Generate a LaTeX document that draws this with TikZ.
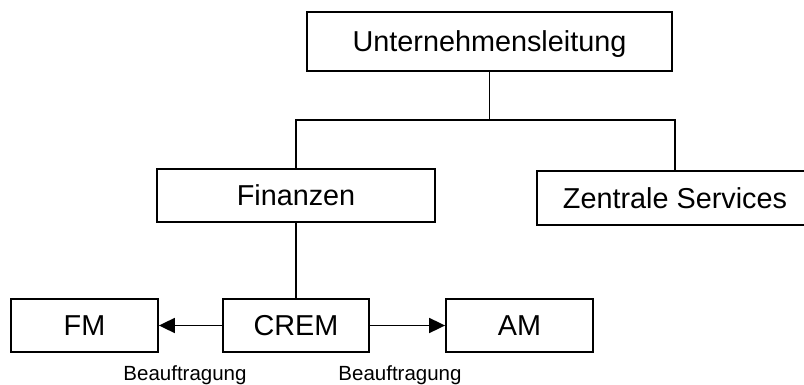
\documentclass[tikz,border=0pt]{standalone}
\usepackage{fontspec}
\setmainfont{Liberation Sans}
\usetikzlibrary{arrows.meta}
\begin{document}
\begin{tikzpicture}[x=1pt,y=-1pt,
  orgbox/.style={draw=black, line width=1.8pt, fill=white, inner sep=0pt,
    font=\fontsize{28.8}{30}\selectfont, text height=20.7pt, text depth=0pt},
  lab/.style={inner sep=0pt, font=\fontsize{20.5}{22}\selectfont, text height=14.7pt, text depth=0pt},
  conn/.style={draw=black, line width=1.8pt},
  arr/.style={conn, -{Triangle[length=16pt,width=15pt]}}]
\useasboundingbox (0,0) rectangle (804,385);
\clip (0,0) rectangle (804,385);
\node[orgbox, minimum width=365pt, minimum height=59pt] (U) at (489.5,41.5) {Unternehmensleitung};
\node[orgbox, minimum width=278pt, minimum height=53pt] (F) at (296,195.5) {Finanzen};
\node[orgbox, minimum width=276pt, minimum height=54pt] (Z) at (675,198) {Zentrale Services};
\node[orgbox, minimum width=146pt, minimum height=53pt] (C) at (296,325.5) {CREM};
\node[orgbox, minimum width=147pt, minimum height=53pt] (FM) at (84.5,325.5) {FM};
\node[orgbox, minimum width=147pt, minimum height=53pt] (AM) at (519.5,325.5) {AM};
\node[lab] (l1) at (185,373) {Beauftragung};
\node[lab] (l2) at (400,373) {Beauftragung};
\coordinate (j) at (489.5,120);
\draw[conn] (U.south) -- (j);
\draw[conn] (F.north) |- (j) -| (Z.north);
\draw[conn] (F.south) -- (C.north);
\draw[arr] (C.west) -- (FM.east);
\draw[arr] (C.east) -- (AM.west);
\end{tikzpicture}
\end{document}
